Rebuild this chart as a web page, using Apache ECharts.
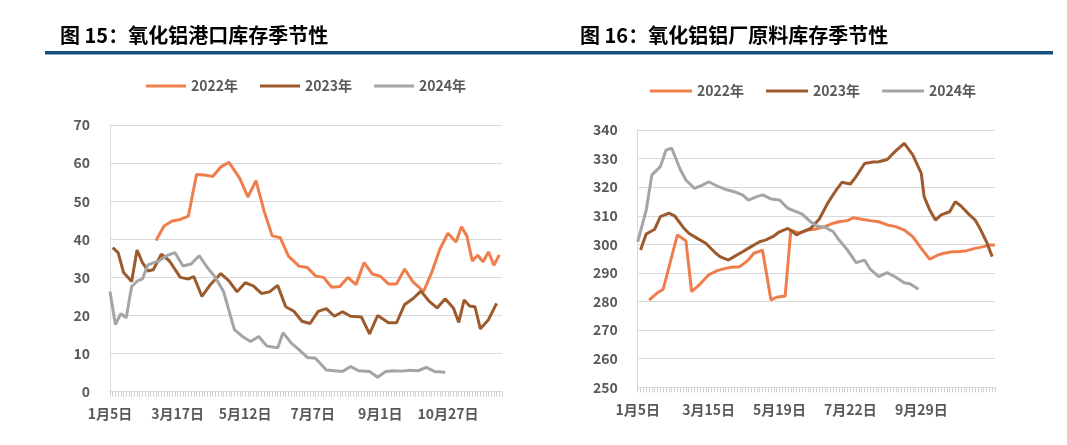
<!DOCTYPE html>
<html><head><meta charset="utf-8">
<script src="https://cdn.jsdelivr.net/npm/echarts@6/dist/echarts.min.js"></script>
<style>html,body{margin:0;padding:0;background:#fff}#c{width:1067px;height:445px}</style>
</head><body><div id="c"></div>
<script>
// ---------- Chart 15: 氧化铝港口库存季节性 ----------
const title15 = '图 15：氧化铝港口库存季节性';
const ticks15 = ['1月5日','3月17日','5月12日','7月7日','9月1日','10月27日'];
const slots15 = 146;          // date slots on the category axis
const labelEvery15 = 25;
const x15_2022 = [17,20,23,26,29,32,35,38,41,44,48,51,54,57,60,63,66,70,73,76,79,82,85,88,91,94,97,100,103,106,109,112,116,119,122,125,128,130,132,134,136,138,140,142,144];
const y15_2022 = [39.7,43.5,44.8,45.2,46.1,57,56.9,56.5,59,60.2,56,51.1,55.4,47.4,40.9,40.4,35.6,32.9,32.6,30.4,30,27.4,27.6,30,28.1,33.9,30.9,30.3,28.3,28.3,32.2,28.9,26.3,31.3,37.4,41.6,39.3,43.3,40.9,34.3,35.8,34.1,36.7,33.2,35.9];
const x15_2023 = [1,3,5,8,10,12,14,16,19,22,26,29,31,34,37,41,44,47,50,53,56,59,62,65,68,71,74,77,80,83,86,89,93,96,99,103,106,109,112,115,118,121,124,127,129,131,133,135,137,140,143];
const y15_2023 = [37.8,36.5,31.3,28.9,37.2,33.9,31.7,32,36.1,34.3,30,29.6,30.2,25,28,31,29.1,26.2,28.6,27.8,25.8,26.2,27.9,22.3,21.1,18.5,17.9,21.1,21.8,19.8,21,19.8,19.6,15.2,20,18.1,18.1,22.9,24.4,26.4,23.8,22,24.4,22,18.2,24.1,22.5,22.3,16.5,18.9,23.2];
const x15_2024 = [0,2,4,6,8,10,12,14,18,21,24,27,30,33,36,39,42,46,49,52,55,58,62,64,67,70,73,76,80,83,86,89,92,96,99,102,105,108,111,114,117,120,124];
const y15_2024 = [26.3,17.6,20.5,19.4,27.6,29,29.6,33.3,34.3,35.7,36.5,33,33.5,35.7,32.6,30,26.3,16.3,14.5,13.2,14.5,12,11.5,15.5,12.8,11,9,8.8,5.7,5.5,5.3,6.6,5.5,5.3,3.8,5.3,5.5,5.4,5.6,5.5,6.4,5.3,5.1];

// ---------- Chart 16: 氧化铝铝厂原料库存季节性 ----------
const title16 = '图 16：氧化铝铝厂原料库存季节性';
const ticks16 = ['1月5日','3月15日','5月19日','7月22日','9月29日'];
const slots16 = 127;
const labelEvery16 = 25;
const x16_2022 = [4,7,9,14,17,19,22,25,28,31,33,36,39,41,44,47,49,52,54,57,60,63,66,69,71,74,76,79,82,85,88,91,94,97,100,103,106,108,111,113,116,119,122,124,126];
const y16_2022 = [280.5,283.1,284.3,303.3,301.3,283.5,286.1,289.3,290.8,291.6,292,292.2,294.5,296.9,298,280.5,281.5,281.9,305,303.9,305,305.4,306.2,307.4,307.9,308.3,309.3,308.8,308.3,307.9,306.8,306.2,305,302.7,298.6,294.8,296.3,296.9,297.4,297.4,297.8,298.6,299.2,299.8,299.8];
const x16_2023 = [1,3,6,8,11,13,16,18,21,24,27,29,32,34,37,40,43,45,48,50,53,56,58,61,64,67,70,72,75,77,80,83,85,88,91,94,97,100,101,103,105,107,110,112,114,117,119,121,123,125];
const y16_2023 = [298,303.6,305.3,309.7,310.9,310,306,303.9,302.1,300.4,297.4,295.7,294.5,295.7,297.4,299.2,300.9,301.5,302.9,304.4,305.6,303.3,304.4,305.6,308.8,314.4,319,321.7,321.1,323.7,328.3,328.8,328.9,329.7,332.7,335.3,331.3,324.8,316.7,312,308.5,310.3,311.4,314.9,313.4,310.3,308.5,305,300.9,295.7];
const x16_2024 = [0,3,5,8,10,12,15,17,20,23,25,28,31,34,37,39,42,44,47,50,53,55,58,61,63,66,69,71,74,77,80,82,85,88,91,94,96,99];
const y16_2024 = [300.9,312,324.3,327.2,333,333.6,326.2,322.5,319.6,320.8,321.9,320.4,319.2,318.4,317.3,315.5,316.7,317.3,315.9,315.5,312.6,311.8,310.6,307.9,306.4,306,304.4,301.5,298,293.6,294.5,291.3,288.7,290.1,288.5,286.6,286.2,284.3];

const seriesNames = ['2022年','2023年','2024年'];
const colors = ['#EE7E4C','#9C5A2D','#A5A5A5'];

function cats(n, ticks, every){
  const a = [];
  for (let i = 0; i < n; i++) a.push(i % every === 0 && ticks[i / every] ? ticks[i / every] : ('s' + i));
  return a;
}
function pairs(xs, ys){ return xs.map((x, i) => [x, ys[i]]); }

const FONT = 'Noto Sans CJK SC';
const axisText = {color:'#595959', fontWeight:'bold', fontSize:14, fontFamily:FONT};

function xAxis(gi, n, ticks, every){
  return {
    type:'category', gridIndex:gi, boundaryGap:false, data:cats(n, ticks, every),
    axisLine:{show:true, lineStyle:{color:'#D9D9D9', width:1}},
    axisTick:{show:true, interval:0, length:5, lineStyle:{color:'#D0D0D0'}},
    axisLabel:Object.assign({interval:every-1, margin:15, formatter:v => (v.charAt(0)==='s' ? '' : v)}, axisText),
    splitLine:{show:false}
  };
}
function yAxis(gi, min, max){
  return {
    type:'value', gridIndex:gi, min:min, max:max, interval:10,
    axisLine:{show:true, lineStyle:{color:'#D9D9D9'}},
    axisTick:{show:false},
    axisLabel:Object.assign({margin:20}, axisText),
    splitLine:{lineStyle:{color:'#D9D9D9', width:1}}
  };
}
function line(name, gi, data, color){
  return {name:name, type:'line', xAxisIndex:gi, yAxisIndex:gi, data:data, symbol:'none',
          lineStyle:{color:color, width:3}, itemStyle:{color:color}, z:3};
}
const legendText = Object.assign({}, axisText, {fontSize:14});

const chart = echarts.init(document.getElementById('c'), null, {renderer:'canvas'});
chart.setOption({
  animation:false,
  backgroundColor:'#fff',
  title:[
    {text:title15, left:55, top:20, textStyle:{fontFamily:FONT, fontWeight:'bold', fontSize:20, color:'#000'}},
    {text:title16, left:575, top:20, textStyle:{fontFamily:FONT, fontWeight:'bold', fontSize:20, color:'#000'}}
  ],
  graphic:[{type:'rect', shape:{x:45, y:51, width:1008, height:3.5}, style:{fill:'#17507E'}}],
  legend:[
    {data:seriesNames, left:141, top:74, icon:'rect', itemWidth:40, itemHeight:3, itemGap:22, textStyle:legendText},
    {data:seriesNames, left:645, top:79, icon:'rect', itemWidth:42, itemHeight:3, itemGap:22, textStyle:legendText}
  ],
  grid:[
    {left:110, top:125, width:392, height:266.7},
    {left:637.7, top:130, width:357.3, height:257.3}
  ],
  xAxis:[xAxis(0, slots15, ticks15, labelEvery15), xAxis(1, slots16, ticks16, labelEvery16)],
  yAxis:[yAxis(0, 0, 70), yAxis(1, 250, 340)],
  series:[
    line(seriesNames[0], 0, pairs(x15_2022, y15_2022), colors[0]),
    line(seriesNames[1], 0, pairs(x15_2023, y15_2023), colors[1]),
    line(seriesNames[2], 0, pairs(x15_2024, y15_2024), colors[2]),
    line(seriesNames[0], 1, pairs(x16_2022, y16_2022), colors[0]),
    line(seriesNames[1], 1, pairs(x16_2023, y16_2023), colors[1]),
    line(seriesNames[2], 1, pairs(x16_2024, y16_2024), colors[2])
  ]
});
</script></body></html>
